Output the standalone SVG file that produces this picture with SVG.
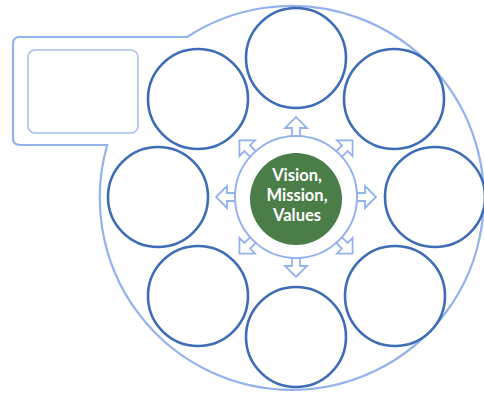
<svg xmlns="http://www.w3.org/2000/svg" width="484" height="394" viewBox="0 0 484 394">
<style>
.outer{fill:none;stroke:#93b2ee;stroke-width:2.2}
.box{fill:none;stroke:#a8bff0;stroke-width:1.6}
.node{fill:#fff;stroke:#3f6cb6;stroke-width:2.6}
.ring{fill:none;stroke:#93b2ee;stroke-width:2}
.arr{fill:#fff;stroke:#93b2ee;stroke-width:1.8;stroke-linejoin:miter}
.core{fill:#4b7d48}
.lbl{font-family:Lato,"Liberation Sans",sans-serif;font-weight:bold;font-size:16.5px;fill:#fff;text-anchor:middle}
</style>
<defs>
<path id="ar" d="M -4 1 L -4 -8 L -11 -8 L 0 -19 L 11 -8 L 4 -8 L 4 1"/>
</defs>
<rect width="484" height="394" fill="#fff"/>
<g id="frame">
<path class="outer" d="M 187 37 A 192 192 0 1 1 107.2 145 L 20 145 Q 13 145 13 138 L 13 44 Q 13 37 20 37 Z"/>
<rect class="box" x="28" y="50" width="110" height="83" rx="7"/>
</g>
<g id="n-top"><circle class="node" cx="296" cy="58" r="50"/></g>
<g id="n-topright"><circle class="node" cx="394" cy="99" r="50"/></g>
<g id="n-right"><circle class="node" cx="435" cy="197" r="50"/></g>
<g id="n-bottomright"><circle class="node" cx="395" cy="296" r="50"/></g>
<g id="n-bottom"><circle class="node" cx="296" cy="337" r="50"/></g>
<g id="n-bottomleft"><circle class="node" cx="198" cy="296" r="50"/></g>
<g id="n-left"><circle class="node" cx="158" cy="197" r="50"/></g>
<g id="n-topleft"><circle class="node" cx="198" cy="99" r="50"/></g>
<g id="connectors">
<use href="#ar" class="arr" transform="translate(296,197) rotate(0) translate(0,-61)"/>
<use href="#ar" class="arr" transform="translate(296,197) rotate(45) translate(0,-61)"/>
<use href="#ar" class="arr" transform="translate(296,197) rotate(90) translate(0,-61)"/>
<use href="#ar" class="arr" transform="translate(296,197) rotate(135) translate(0,-61)"/>
<use href="#ar" class="arr" transform="translate(296,197) rotate(180) translate(0,-61)"/>
<use href="#ar" class="arr" transform="translate(296,197) rotate(225) translate(0,-61)"/>
<use href="#ar" class="arr" transform="translate(296,197) rotate(270) translate(0,-61)"/>
<use href="#ar" class="arr" transform="translate(296,197) rotate(315) translate(0,-61)"/>
</g>
<g id="center">
<circle class="ring" cx="296" cy="197" r="61"/>
<circle class="core" cx="296" cy="199" r="46"/>
<text class="lbl" x="297" y="181">Vision,</text>
<text class="lbl" x="297" y="201">Mission,</text>
<text class="lbl" x="297" y="221">Values</text>
</g>
</svg>
